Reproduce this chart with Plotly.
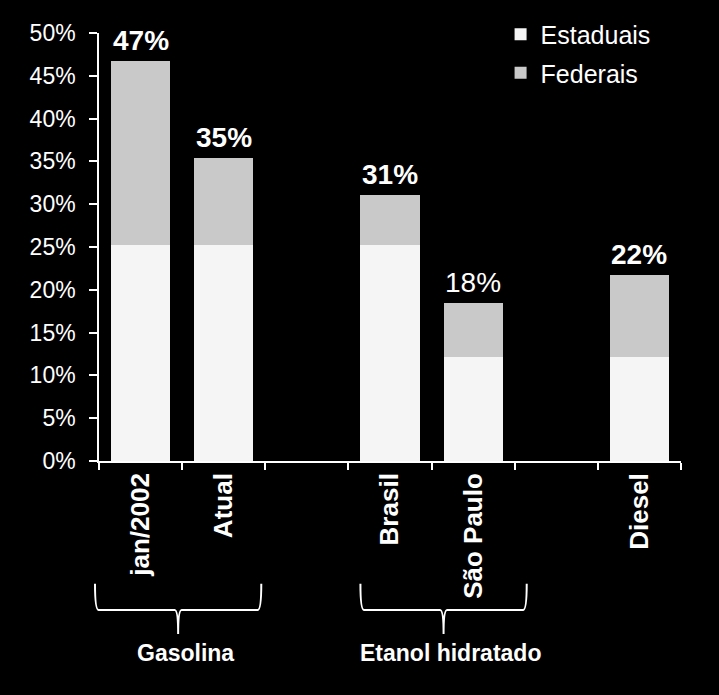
import plotly.graph_objects as go

categories = ["jan/2002", "Atual", " ", "Brasil", "São Paulo", "  ", "Diesel"]
estaduais = [25.2, 25.2, None, 25.2, 12.2, None, 12.2]
federais = [21.5, 10.2, None, 5.9, 6.3, None, 9.5]
total_labels = ["47%", "35%", None, "31%", "18%", None, "22%"]
label_bold = [True, True, None, True, False, None, True]
groups = ["Gasolina", "Etanol hidratado"]
group_start = [0, 3]
group_end = [1, 4]
y_ticks = [0, 5, 10, 15, 20, 25, 30, 35, 40, 45, 50]

FONT = "Liberation Sans, Arial, sans-serif"

fig = go.Figure()
fig.add_trace(go.Bar(
    x=categories, y=estaduais, name="Estaduais",
    marker=dict(color="#F5F5F5", line=dict(width=0)),
    width=0.71, legendgroup="e",
))
fig.add_trace(go.Bar(
    x=categories, y=federais, name="Federais",
    marker=dict(color="#C9C9C9", line=dict(width=0)),
    width=0.71, legendgroup="f",
))

annotations = []
for c, e, f, lab, b in zip(categories, estaduais, federais, total_labels, label_bold):
    if lab is None:
        continue
    annotations.append(dict(
        x=c, y=e + f, xref="x", yref="y", text=f"<b>{lab}</b>" if b else lab,
        showarrow=False, yanchor="bottom", yshift=3,
        font=dict(family=FONT, size=28, color="white"),
    ))

n = len(categories)
plot_w = 719 - 99 - 38
def boundary(i):
    return i / n

# horizontal offsets (px) of each brace relative to the category boundaries
brace_shift = [-4, 12]
text_shift = [7, 7]
shapes = []
for name, i0, i1, bs, ts in zip(groups, group_start, group_end, brace_shift, text_shift):
    xl = boundary(i0) + bs / plot_w
    xr = boundary(i1 + 1) + bs / plot_w
    xm = (xl + xr) / 2
    yt, yb, yc = -0.287, -0.348, -0.404
    d = 0.006
    path = (f"M {xl},{yt} Q {xl},{yb} {xl + d},{yb} L {xm - d},{yb} "
            f"Q {xm},{yb} {xm},{yc} Q {xm},{yb} {xm + d},{yb} "
            f"L {xr - d},{yb} Q {xr},{yb} {xr},{yt}")
    shapes.append(dict(type="path", path=path, xref="paper", yref="paper",
                       line=dict(color="white", width=2)))
    annotations.append(dict(
        x=xm + ts / plot_w, y=-0.449, xref="paper", yref="paper", text=f"<b>{name}</b>",
        showarrow=False, yanchor="middle", xanchor="center",
        font=dict(family=FONT, size=23, color="white"),
    ))

fig.update_layout(
    width=719, height=695,
    paper_bgcolor="black", plot_bgcolor="black",
    barmode="stack",
    margin=dict(l=99, r=38, t=33, b=234),
    font=dict(family=FONT, color="white", size=22),
    xaxis=dict(
        type="category", categoryorder="array", categoryarray=categories,
        tickson="boundaries", ticks="outside", ticklen=7, tickcolor="white", tickwidth=1.5,
        showline=True, linecolor="white", linewidth=1.5, showgrid=False,
        tickangle=-90, tickfont=dict(family=FONT, size=26, color="white"),
        tickprefix="<b>", ticksuffix="</b>",
    ),
    yaxis=dict(
        range=[0, 50], tickvals=y_ticks, ticktext=[f"{v}%" for v in y_ticks],
        ticks="outside", ticklen=8, tickcolor="white", tickwidth=1.5,
        showline=True, linecolor="white", linewidth=1.5, showgrid=False, zeroline=False,
        tickfont=dict(family=FONT, size=23, color="white"),
        ticklabelstandoff=9,
    ),
    legend=dict(
        x=0.69, y=1.05, xanchor="left", yanchor="top",
        traceorder="grouped", tracegroupgap=3,
        font=dict(family=FONT, size=25, color="white"),
        bgcolor="rgba(0,0,0,0)",
    ),
    annotations=annotations,
    shapes=shapes,
)

fig.write_html("out.html")
